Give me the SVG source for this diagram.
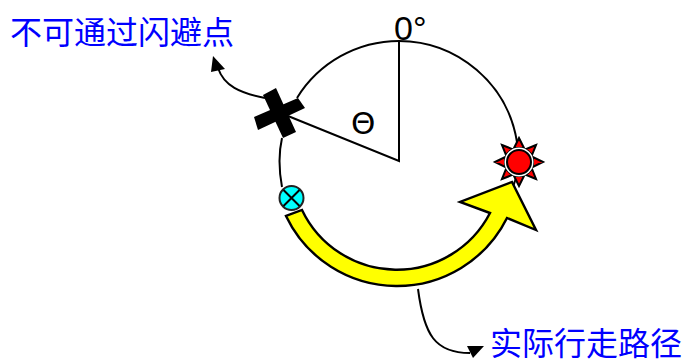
<svg xmlns="http://www.w3.org/2000/svg" width="684" height="359" viewBox="0 0 684 359">
<style>
.c{fill:none;stroke:#000;stroke-width:2}
.h{fill:#000}
.t{font-family:"Liberation Sans","Noto Sans CJK SC",sans-serif}
.b{fill:#00f;font-size:32px;font-family:"Noto Sans CJK SC","Liberation Sans",sans-serif}
</style>
<g id="connectors">
<path class="c" d="M399 41A120 120 0 0 1 517 142"/>
<path class="c" d="M516 178L512 190"/>
<path class="c" d="M399 41A120 120 0 0 0 297 98"/>
<path class="c" d="M282 138Q277 160 282 187"/>
<path class="c" d="M399 41V161L288 116"/>
<path class="c" d="M265 98C240 93 224 86 218 68"/>
<path class="h" d="M213 56L211 72L225 69Z"/>
<path class="c" d="M418 289C424 335 435 353 470 353"/>
<path class="h" d="M467 346L484 346L473 358Z"/>
</g>
<g id="yellow-arrow">
<path d="M286 216A123 123 0 0 0 507 218L536 230L512 182L460 202L490 213A105 105 0 0 1 302 210Z" fill="#ff0" stroke="#000" stroke-width="2.400"/>
</g>
<g id="cross">
<path d="M254 117L298 98L305 108L258 130Z" fill="#000"/>
<path d="M263 95L276 88L296 132L283 138Z" fill="#000"/>
</g>
<g id="start">
<circle cx="291.500" cy="198" r="12" fill="#0ff" stroke="#222" stroke-width="2"/>
<path d="M283.500 190L299.500 206M299.500 190L283.500 206" stroke="#000" stroke-width="2"/>
</g>
<g id="star">
<path d="M519 138L524 148L514 148ZM519 186L524 176L514 176ZM495 162L505 157L505 167ZM543 162L533 157L533 167ZM502 145L512 149L506 155ZM536 145L526 149L532 155ZM502 179L512 175L506 169ZM536 179L526 175L532 169Z" fill="#f00" stroke="#000" stroke-width="2"/>
<circle cx="519" cy="162" r="14.500" fill="#fff"/>
<circle cx="519" cy="162" r="12" fill="#f00" stroke="#000" stroke-width="2"/>
</g>
<g id="labels">
<text class="t" x="394" y="40" font-size="34">0°</text>
<text x="351" y="134" font-size="31" font-family="'DejaVu Sans',sans-serif">Θ</text>
<text class="b" x="10" y="44">不可通过闪避点</text>
<text class="b" x="490" y="355">实际行走路径</text>
</g>
</svg>
